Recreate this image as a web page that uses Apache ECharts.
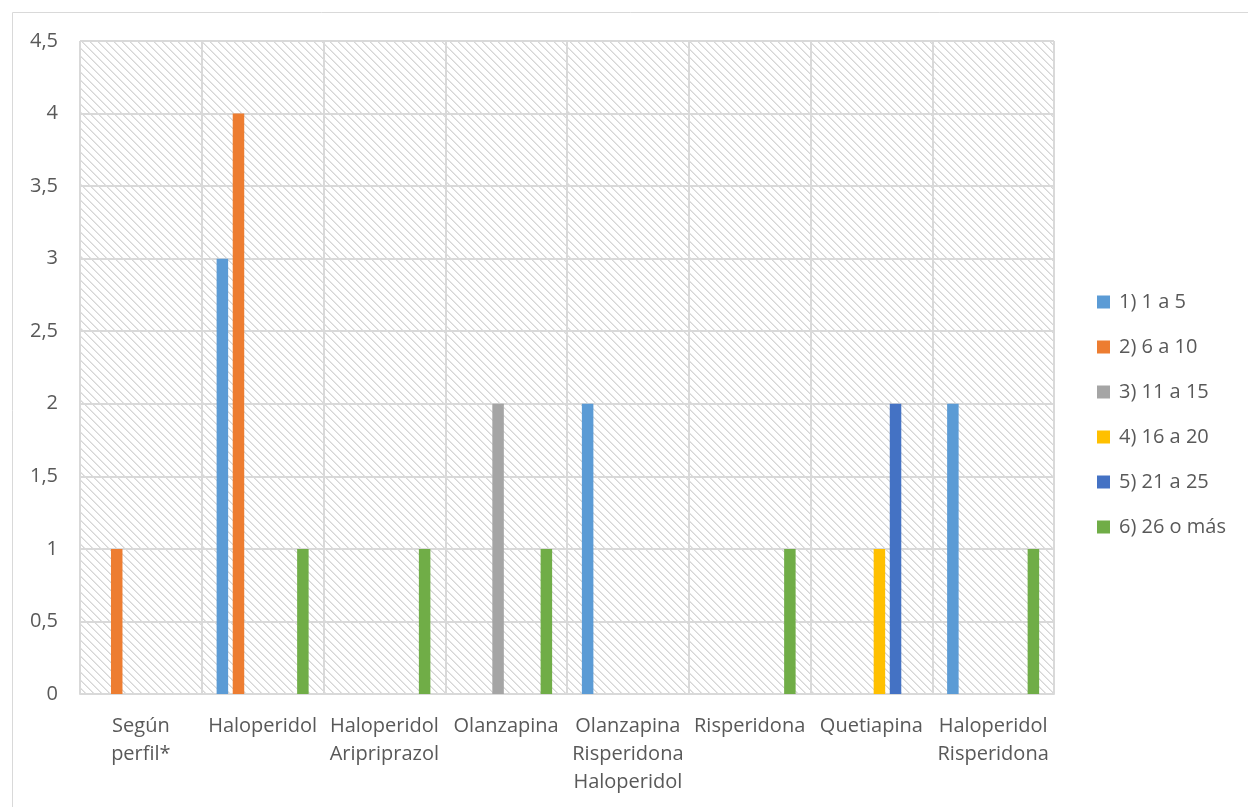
<!DOCTYPE html>
<html>
<head>
<meta charset="utf-8">
<script src="https://cdn.jsdelivr.net/npm/echarts@6/dist/echarts.min.js"></script>
<style>
html,body{margin:0;padding:0;background:#fff;}
#c{width:1248px;height:807px;}
</style>
</head>
<body>
<div id="c"></div>
<script>
const categories = ["Según\nperfil*", "Haloperidol", "Haloperidol\nAripriprazol", "Olanzapina", "Olanzapina\nRisperidona\nHaloperidol", "Risperidona", "Quetiapina", "Haloperidol\nRisperidona"];
const seriesNames = ["1) 1 a 5", "2) 6 a 10", "3) 11 a 15", "4) 16 a 20", "5) 21 a 25", "6) 26 o más"];
const s1 = [0, 3, 0, 0, 2, 0, 0, 2];
const s2 = [1, 4, 0, 0, 0, 0, 0, 0];
const s3 = [0, 0, 0, 2, 0, 0, 0, 0];
const s4 = [0, 0, 0, 0, 0, 0, 1, 0];
const s5 = [0, 0, 0, 0, 0, 0, 2, 0];
const s6 = [0, 1, 1, 1, 0, 1, 0, 1];
const colors = ["#5b9bd5", "#ed7d31", "#a5a5a5", "#ffc000", "#4472c4", "#70ad47"];
const values = [s1, s2, s3, s4, s5, s6];

const pc = document.createElement('canvas');
pc.width = 8; pc.height = 8;
const ctx = pc.getContext('2d');
ctx.fillStyle = '#ffffff';
ctx.fillRect(0, 0, 8, 8);
for (let y = 0; y < 8; y++) {
  for (let x = 0; x < 8; x++) {
    const d = ((x - y) % 8 + 8) % 8;
    if (d === 0) { ctx.fillStyle = '#d6d6d6'; ctx.fillRect(x, y, 1, 1); }
    else if (d === 1) { ctx.fillStyle = '#e6e6e6'; ctx.fillRect(x, y, 1, 1); }
  }
}

const chart = echarts.init(document.getElementById('c'), null, {renderer: 'canvas'});
const font = "'Open Sans', 'Liberation Sans', sans-serif";
chart.setOption({
  animation: false,
  textStyle: {fontFamily: font},
  graphic: [{
    type: 'rect', left: 10, top: 10, silent: true,
    shape: {width: 1300, height: 900},
    style: {fill: null, stroke: '#d9d9d9', lineWidth: 1}
  }],
  grid: {
    left: 80, right: 194, top: 41, bottom: 113,
    show: true, borderWidth: 0,
    backgroundColor: {image: pc, repeat: 'repeat'}
  },
  legend: {
    orient: 'vertical', left: 1092, top: 287,
    itemWidth: 13, itemHeight: 13, itemGap: 25,
    icon: 'rect',
    textStyle: {fontSize: 20, color: '#595959', fontFamily: font, padding: [0, 0, 0, 4]},
    data: seriesNames
  },
  xAxis: {
    type: 'category', data: categories,
    axisLine: {lineStyle: {color: '#d9d9d9', width: 2}},
    axisTick: {show: false},
    splitLine: {show: true, lineStyle: {color: '#d9d9d9', width: 2}},
    axisLabel: {fontSize: 20, color: '#595959', lineHeight: 28, margin: 18, interval: 0, fontFamily: font}
  },
  yAxis: {
    type: 'value', min: 0, max: 4.5, interval: 0.5,
    axisLine: {show: false}, axisTick: {show: false},
    splitLine: {lineStyle: {color: '#d9d9d9', width: 2}},
    axisLabel: {fontSize: 20, color: '#595959', margin: 22, fontFamily: font,
      formatter: v => String(v).replace('.', ',')}
  },
  series: values.map((d, i) => ({
    name: seriesNames[i], type: 'bar', data: d,
    barWidth: 11.5, barGap: '40%',
    itemStyle: {color: colors[i]}
  }))
});
</script>
</body>
</html>
